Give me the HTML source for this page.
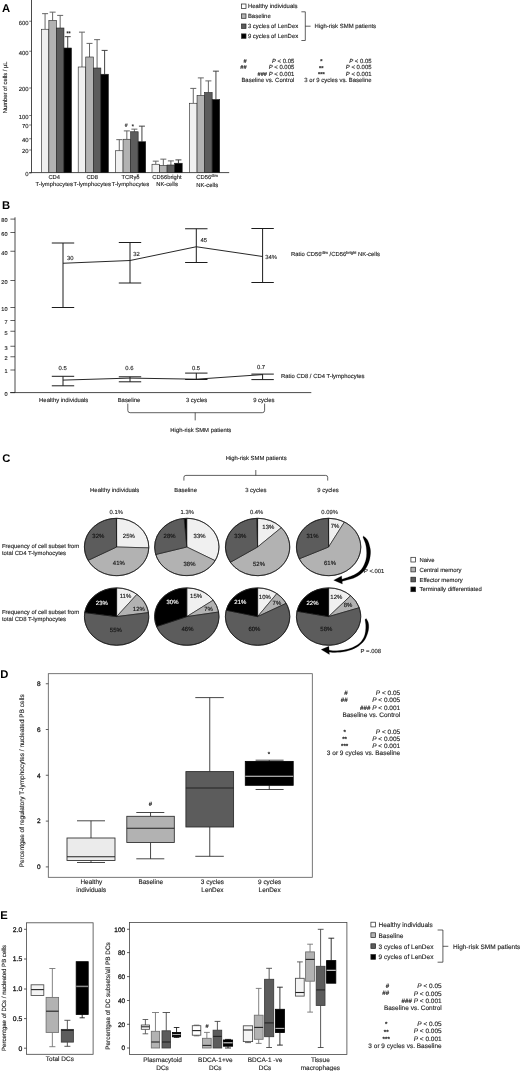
<!DOCTYPE html>
<html lang="en">
<head>
<meta charset="utf-8">
<title>Figure</title>
<style>
html,body{margin:0;padding:0;background:#fff;}
svg{display:block;}
svg text{font-family:"Liberation Sans",sans-serif;text-rendering:geometricPrecision;stroke-width:1.3px;}
</style>
</head>
<body>
<svg width="520" height="1071" viewBox="0 0 520 1071">
<rect x="0" y="0" width="520" height="1071" fill="#ffffff"/>
<g fill="#1f1f1f" stroke="#1f1f1f" stroke-width="0.13">
<text transform="translate(2 11.5) scale(0.1)" font-size="113" font-weight="bold" fill="#000" stroke="none">A</text>
<line x1="31.5" y1="0" x2="31.5" y2="172.6" stroke="#1c1c1c" stroke-width="0.8"/>
<line x1="29.2" y1="172.6" x2="229.2" y2="172.6" stroke="#1c1c1c" stroke-width="0.8"/>
<line x1="29.2" y1="21.25" x2="31.5" y2="21.25" stroke="#1c1c1c" stroke-width="0.6"/>
<text transform="translate(28.6 24.67) scale(0.1)" font-size="59" text-anchor="end">600</text>
<line x1="29.2" y1="51.25" x2="31.5" y2="51.25" stroke="#1c1c1c" stroke-width="0.6"/>
<text transform="translate(28.6 54.67) scale(0.1)" font-size="59" text-anchor="end">400</text>
<line x1="29.2" y1="88" x2="31.5" y2="88" stroke="#1c1c1c" stroke-width="0.6"/>
<text transform="translate(28.6 91.42) scale(0.1)" font-size="59" text-anchor="end">200</text>
<line x1="29.2" y1="115.5" x2="31.5" y2="115.5" stroke="#1c1c1c" stroke-width="0.6"/>
<text transform="translate(28.6 118.92) scale(0.1)" font-size="59" text-anchor="end">100</text>
<line x1="29.2" y1="125" x2="31.5" y2="125" stroke="#1c1c1c" stroke-width="0.6"/>
<text transform="translate(28.6 128.42) scale(0.1)" font-size="59" text-anchor="end">70</text>
<line x1="29.2" y1="138.75" x2="31.5" y2="138.75" stroke="#1c1c1c" stroke-width="0.6"/>
<text transform="translate(28.6 142.17) scale(0.1)" font-size="59" text-anchor="end">40</text>
<line x1="29.2" y1="150" x2="31.5" y2="150" stroke="#1c1c1c" stroke-width="0.6"/>
<text transform="translate(28.6 153.42) scale(0.1)" font-size="59" text-anchor="end">20</text>
<line x1="29.2" y1="173" x2="31.5" y2="173" stroke="#1c1c1c" stroke-width="0.6"/>
<text transform="translate(28.6 176.42) scale(0.1)" font-size="59" text-anchor="end">0</text>
<text transform="translate(6.69 87.3) rotate(-90) scale(0.1)" font-size="58" text-anchor="middle">Number of cells / µL</text>
<line x1="45.07" y1="13.65" x2="45.07" y2="29.25" stroke="#5e5e5e" stroke-width="0.95"/>
<line x1="42.07" y1="13.65" x2="48.07" y2="13.65" stroke="#5e5e5e" stroke-width="0.95"/>
<rect x="41.3" y="29.25" width="7.55" height="143.35" fill="#f0f0f0" stroke="#222" stroke-width="0.6"/>
<line x1="52.62" y1="12.15" x2="52.62" y2="20.5" stroke="#5e5e5e" stroke-width="0.95"/>
<line x1="49.62" y1="12.15" x2="55.62" y2="12.15" stroke="#5e5e5e" stroke-width="0.95"/>
<rect x="48.85" y="20.5" width="7.55" height="152.1" fill="#b2b2b2" stroke="#222" stroke-width="0.6"/>
<line x1="60.17" y1="15.4" x2="60.17" y2="28" stroke="#5e5e5e" stroke-width="0.95"/>
<line x1="57.17" y1="15.4" x2="63.17" y2="15.4" stroke="#5e5e5e" stroke-width="0.95"/>
<rect x="56.4" y="28" width="7.55" height="144.6" fill="#5c5c5c" stroke="#222" stroke-width="0.6"/>
<line x1="67.72" y1="36.65" x2="67.72" y2="48" stroke="#3a3a3a" stroke-width="0.95"/>
<line x1="64.72" y1="36.65" x2="70.72" y2="36.65" stroke="#3a3a3a" stroke-width="0.95"/>
<rect x="63.95" y="48" width="7.55" height="124.6" fill="#000000" stroke="#222" stroke-width="0.6"/>
<line x1="81.98" y1="32.15" x2="81.98" y2="67" stroke="#5e5e5e" stroke-width="0.95"/>
<line x1="78.98" y1="32.15" x2="84.98" y2="32.15" stroke="#5e5e5e" stroke-width="0.95"/>
<rect x="78.2" y="67" width="7.55" height="105.6" fill="#f0f0f0" stroke="#222" stroke-width="0.6"/>
<line x1="89.53" y1="43.4" x2="89.53" y2="57" stroke="#5e5e5e" stroke-width="0.95"/>
<line x1="86.53" y1="43.4" x2="92.53" y2="43.4" stroke="#5e5e5e" stroke-width="0.95"/>
<rect x="85.75" y="57" width="7.55" height="115.6" fill="#b2b2b2" stroke="#222" stroke-width="0.6"/>
<line x1="97.08" y1="39.65" x2="97.08" y2="68" stroke="#5e5e5e" stroke-width="0.95"/>
<line x1="94.08" y1="39.65" x2="100.08" y2="39.65" stroke="#5e5e5e" stroke-width="0.95"/>
<rect x="93.3" y="68" width="7.55" height="104.6" fill="#5c5c5c" stroke="#222" stroke-width="0.6"/>
<line x1="104.62" y1="50.4" x2="104.62" y2="74.25" stroke="#3a3a3a" stroke-width="0.95"/>
<line x1="101.62" y1="50.4" x2="107.62" y2="50.4" stroke="#3a3a3a" stroke-width="0.95"/>
<rect x="100.85" y="74.25" width="7.55" height="98.35" fill="#000000" stroke="#222" stroke-width="0.6"/>
<line x1="119.28" y1="139.65" x2="119.28" y2="150.75" stroke="#5e5e5e" stroke-width="0.95"/>
<line x1="116.28" y1="139.65" x2="122.28" y2="139.65" stroke="#5e5e5e" stroke-width="0.95"/>
<rect x="115.5" y="150.75" width="7.55" height="21.85" fill="#f0f0f0" stroke="#222" stroke-width="0.6"/>
<line x1="126.83" y1="130.9" x2="126.83" y2="139.25" stroke="#5e5e5e" stroke-width="0.95"/>
<line x1="123.83" y1="130.9" x2="129.82" y2="130.9" stroke="#5e5e5e" stroke-width="0.95"/>
<rect x="123.05" y="139.25" width="7.55" height="33.35" fill="#b2b2b2" stroke="#222" stroke-width="0.6"/>
<line x1="134.38" y1="129.15" x2="134.38" y2="131.75" stroke="#5e5e5e" stroke-width="0.95"/>
<line x1="131.38" y1="129.15" x2="137.38" y2="129.15" stroke="#5e5e5e" stroke-width="0.95"/>
<rect x="130.6" y="131.75" width="7.55" height="40.85" fill="#5c5c5c" stroke="#222" stroke-width="0.6"/>
<line x1="141.93" y1="126.15" x2="141.93" y2="141.75" stroke="#3a3a3a" stroke-width="0.95"/>
<line x1="138.93" y1="126.15" x2="144.93" y2="126.15" stroke="#3a3a3a" stroke-width="0.95"/>
<rect x="138.15" y="141.75" width="7.55" height="30.85" fill="#000000" stroke="#222" stroke-width="0.6"/>
<line x1="155.78" y1="161.15" x2="155.78" y2="164.25" stroke="#5e5e5e" stroke-width="0.95"/>
<line x1="152.78" y1="161.15" x2="158.78" y2="161.15" stroke="#5e5e5e" stroke-width="0.95"/>
<rect x="152" y="164.25" width="7.55" height="8.35" fill="#f0f0f0" stroke="#222" stroke-width="0.6"/>
<line x1="163.33" y1="159.15" x2="163.33" y2="165.5" stroke="#5e5e5e" stroke-width="0.95"/>
<line x1="160.33" y1="159.15" x2="166.33" y2="159.15" stroke="#5e5e5e" stroke-width="0.95"/>
<rect x="159.55" y="165.5" width="7.55" height="7.1" fill="#b2b2b2" stroke="#222" stroke-width="0.6"/>
<line x1="170.88" y1="160.9" x2="170.88" y2="165" stroke="#5e5e5e" stroke-width="0.95"/>
<line x1="167.88" y1="160.9" x2="173.88" y2="160.9" stroke="#5e5e5e" stroke-width="0.95"/>
<rect x="167.1" y="165" width="7.55" height="7.6" fill="#5c5c5c" stroke="#222" stroke-width="0.6"/>
<line x1="178.43" y1="159.9" x2="178.43" y2="163.25" stroke="#3a3a3a" stroke-width="0.95"/>
<line x1="175.43" y1="159.9" x2="181.43" y2="159.9" stroke="#3a3a3a" stroke-width="0.95"/>
<rect x="174.65" y="163.25" width="7.55" height="9.35" fill="#000000" stroke="#222" stroke-width="0.6"/>
<line x1="193.28" y1="88.4" x2="193.28" y2="103.25" stroke="#5e5e5e" stroke-width="0.95"/>
<line x1="190.28" y1="88.4" x2="196.28" y2="88.4" stroke="#5e5e5e" stroke-width="0.95"/>
<rect x="189.5" y="103.25" width="7.55" height="69.35" fill="#f0f0f0" stroke="#222" stroke-width="0.6"/>
<line x1="200.83" y1="77.9" x2="200.83" y2="95.5" stroke="#5e5e5e" stroke-width="0.95"/>
<line x1="197.83" y1="77.9" x2="203.83" y2="77.9" stroke="#5e5e5e" stroke-width="0.95"/>
<rect x="197.05" y="95.5" width="7.55" height="77.1" fill="#b2b2b2" stroke="#222" stroke-width="0.6"/>
<line x1="208.38" y1="80.9" x2="208.38" y2="92.5" stroke="#5e5e5e" stroke-width="0.95"/>
<line x1="205.38" y1="80.9" x2="211.38" y2="80.9" stroke="#5e5e5e" stroke-width="0.95"/>
<rect x="204.6" y="92.5" width="7.55" height="80.1" fill="#5c5c5c" stroke="#222" stroke-width="0.6"/>
<line x1="215.93" y1="71.15" x2="215.93" y2="99.5" stroke="#3a3a3a" stroke-width="0.95"/>
<line x1="212.93" y1="71.15" x2="218.93" y2="71.15" stroke="#3a3a3a" stroke-width="0.95"/>
<rect x="212.15" y="99.5" width="7.55" height="73.1" fill="#000000" stroke="#222" stroke-width="0.6"/>
<text transform="translate(68.6 34.54) scale(0.1)" font-size="54" text-anchor="middle" font-weight="bold">**</text>
<text transform="translate(126.3 127.07) scale(0.1)" font-size="52" text-anchor="middle" font-weight="bold">#</text>
<text transform="translate(132.8 127.74) scale(0.1)" font-size="54" text-anchor="middle" font-weight="bold">*</text>
<text transform="translate(54.2 179.09) scale(0.1)" font-size="58" text-anchor="middle">CD4</text>
<text transform="translate(54.2 186.49) scale(0.1)" font-size="58" text-anchor="middle">T-lymphocytes</text>
<text transform="translate(92.2 179.09) scale(0.1)" font-size="58" text-anchor="middle">CD8</text>
<text transform="translate(92.2 186.49) scale(0.1)" font-size="58" text-anchor="middle">T-lymphocytes</text>
<text transform="translate(130.5 179.09) scale(0.1)" font-size="58" text-anchor="middle">TCRγδ</text>
<text transform="translate(130.5 186.49) scale(0.1)" font-size="58" text-anchor="middle">T-lymphocytes</text>
<text transform="translate(167 179.09) scale(0.1)" font-size="58" text-anchor="middle">CD56bright</text>
<text transform="translate(167 186.49) scale(0.1)" font-size="58" text-anchor="middle">NK-cells</text>
<text transform="translate(196.2 179.12) scale(0.1)" font-size="59">CD56<tspan font-size="40" dy="-21">dim</tspan><tspan dy="21">&#8203;</tspan></text>
<text transform="translate(196.2 186.52) scale(0.1)" font-size="59">NK-cells</text>
<rect x="241.6" y="4" width="4.4" height="4.4" fill="#fff" stroke="#222" stroke-width="0.7"/>
<text transform="translate(247.9 8.34) scale(0.1)" font-size="59.5">Healthy individuals</text>
<rect x="241.6" y="13.9" width="4.4" height="4.4" fill="#b2b2b2" stroke="#222" stroke-width="0.7"/>
<text transform="translate(247.9 18.24) scale(0.1)" font-size="59.5">Baseline</text>
<rect x="241.6" y="24" width="4.4" height="4.4" fill="#5c5c5c" stroke="#222" stroke-width="0.7"/>
<text transform="translate(247.9 28.34) scale(0.1)" font-size="59.5">3 cycles of LenDex</text>
<rect x="241.6" y="33.9" width="4.4" height="4.4" fill="#000000" stroke="#222" stroke-width="0.7"/>
<text transform="translate(247.9 38.24) scale(0.1)" font-size="59.5">9 cycles of LenDex</text>
<path d="M301.4 11.8 H305.3 V40.5 H301.4 M305.3 26.2 H310.6" fill="none" stroke="#1c1c1c" stroke-width="0.7" />
<text transform="translate(314.6 28.34) scale(0.1)" font-size="59.5">High-risk SMM patients</text>
<text transform="translate(246.64 62.73) scale(0.1)" font-size="56.52" text-anchor="end" font-weight="bold">#</text>
<text transform="translate(294.3 62.84) scale(0.1)" font-size="59.5" text-anchor="end"><tspan font-style="italic">P</tspan> &lt; 0.05</text>
<text transform="translate(246.64 69.2) scale(0.1)" font-size="56.52" text-anchor="end" font-weight="bold">##</text>
<text transform="translate(294.3 69.31) scale(0.1)" font-size="59.5" text-anchor="end"><tspan font-style="italic">P</tspan> &lt; 0.005</text>
<text transform="translate(294.3 75.78) scale(0.1)" font-size="59.5" text-anchor="end"><tspan font-size="56.52" font-weight="bold">###</tspan> <tspan font-style="italic">P</tspan> &lt; 0.001</text>
<text transform="translate(294.3 82.25) scale(0.1)" font-size="59.5" text-anchor="end">Baseline vs. Control</text>
<text transform="translate(321.3 63.03) scale(0.1)" font-size="56.52" text-anchor="middle" font-weight="bold">*</text>
<text transform="translate(321.3 69.5) scale(0.1)" font-size="56.52" text-anchor="middle" font-weight="bold">**</text>
<text transform="translate(321.3 75.97) scale(0.1)" font-size="56.52" text-anchor="middle" font-weight="bold">***</text>
<text transform="translate(371.5 62.84) scale(0.1)" font-size="59.5" text-anchor="end"><tspan font-style="italic">P</tspan> &lt; 0.05</text>
<text transform="translate(371.5 69.31) scale(0.1)" font-size="59.5" text-anchor="end"><tspan font-style="italic">P</tspan> &lt; 0.005</text>
<text transform="translate(371.5 75.78) scale(0.1)" font-size="59.5" text-anchor="end"><tspan font-style="italic">P</tspan> &lt; 0.001</text>
<text transform="translate(371.5 82.25) scale(0.1)" font-size="59.5" text-anchor="end">3 or 9 cycles vs. Baseline</text>
<text transform="translate(2 208.8) scale(0.1)" font-size="113" font-weight="bold" fill="#000" stroke="none">B</text>
<line x1="15" y1="217.3" x2="15" y2="392.6" stroke="#1c1c1c" stroke-width="0.8"/>
<line x1="10.2" y1="392.6" x2="311.3" y2="392.6" stroke="#1c1c1c" stroke-width="0.8"/>
<line x1="10.4" y1="219.1" x2="15" y2="219.1" stroke="#1c1c1c" stroke-width="0.7"/>
<text transform="translate(7.6 222.42) scale(0.1)" font-size="56" text-anchor="end">80</text>
<line x1="10.4" y1="232.5" x2="15" y2="232.5" stroke="#1c1c1c" stroke-width="0.7"/>
<text transform="translate(7.6 235.82) scale(0.1)" font-size="56" text-anchor="end">60</text>
<line x1="10.4" y1="251.25" x2="15" y2="251.25" stroke="#1c1c1c" stroke-width="0.7"/>
<text transform="translate(7.6 254.57) scale(0.1)" font-size="56" text-anchor="end">40</text>
<line x1="10.4" y1="280.5" x2="15" y2="280.5" stroke="#1c1c1c" stroke-width="0.7"/>
<text transform="translate(7.6 283.82) scale(0.1)" font-size="56" text-anchor="end">20</text>
<line x1="10.4" y1="307.5" x2="15" y2="307.5" stroke="#1c1c1c" stroke-width="0.7"/>
<text transform="translate(7.6 310.82) scale(0.1)" font-size="56" text-anchor="end">10</text>
<line x1="10.4" y1="320.5" x2="15" y2="320.5" stroke="#1c1c1c" stroke-width="0.7"/>
<text transform="translate(7.6 323.82) scale(0.1)" font-size="56" text-anchor="end">7</text>
<line x1="10.4" y1="331.25" x2="15" y2="331.25" stroke="#1c1c1c" stroke-width="0.7"/>
<text transform="translate(7.6 334.57) scale(0.1)" font-size="56" text-anchor="end">5</text>
<line x1="10.4" y1="346.25" x2="15" y2="346.25" stroke="#1c1c1c" stroke-width="0.7"/>
<text transform="translate(7.6 349.57) scale(0.1)" font-size="56" text-anchor="end">3</text>
<line x1="10.4" y1="356.75" x2="15" y2="356.75" stroke="#1c1c1c" stroke-width="0.7"/>
<text transform="translate(7.6 360.07) scale(0.1)" font-size="56" text-anchor="end">2</text>
<line x1="10.4" y1="370" x2="15" y2="370" stroke="#1c1c1c" stroke-width="0.7"/>
<text transform="translate(7.6 373.32) scale(0.1)" font-size="56" text-anchor="end">1</text>
<line x1="10.4" y1="392.6" x2="15" y2="392.6" stroke="#1c1c1c" stroke-width="0.7"/>
<text transform="translate(7.6 395.92) scale(0.1)" font-size="56" text-anchor="end">0</text>
<line x1="63" y1="243" x2="63" y2="307.5" stroke="#1c1c1c" stroke-width="1"/>
<line x1="51.8" y1="243" x2="74.2" y2="243" stroke="#1c1c1c" stroke-width="1"/>
<line x1="51.8" y1="307.5" x2="74.2" y2="307.5" stroke="#1c1c1c" stroke-width="1"/>
<line x1="130" y1="242.5" x2="130" y2="283" stroke="#1c1c1c" stroke-width="1"/>
<line x1="118.8" y1="242.5" x2="141.2" y2="242.5" stroke="#1c1c1c" stroke-width="1"/>
<line x1="118.8" y1="283" x2="141.2" y2="283" stroke="#1c1c1c" stroke-width="1"/>
<line x1="196.3" y1="228.75" x2="196.3" y2="262.5" stroke="#1c1c1c" stroke-width="1"/>
<line x1="185.1" y1="228.75" x2="207.5" y2="228.75" stroke="#1c1c1c" stroke-width="1"/>
<line x1="185.1" y1="262.5" x2="207.5" y2="262.5" stroke="#1c1c1c" stroke-width="1"/>
<line x1="262.6" y1="228.5" x2="262.6" y2="282.5" stroke="#1c1c1c" stroke-width="1"/>
<line x1="251.4" y1="228.5" x2="273.8" y2="228.5" stroke="#1c1c1c" stroke-width="1"/>
<line x1="251.4" y1="282.5" x2="273.8" y2="282.5" stroke="#1c1c1c" stroke-width="1"/>
<path d="M63 263.25 L130 260.5 L196.3 246.75 L262.6 256.5" fill="none" stroke="#1c1c1c" stroke-width="0.95" />
<text transform="translate(67 259.72) scale(0.1)" font-size="59">30</text>
<text transform="translate(133.2 255.92) scale(0.1)" font-size="59">32</text>
<text transform="translate(200.4 241.72) scale(0.1)" font-size="59">45</text>
<text transform="translate(265.2 258.72) scale(0.1)" font-size="59">34%</text>
<text transform="translate(291 256.32) scale(0.1)" font-size="59">Ratio CD56<tspan font-size="40" dy="-21">dim</tspan><tspan dy="21">&#8203;</tspan> /CD56<tspan font-size="40" dy="-21">bright</tspan><tspan dy="21">&#8203;</tspan> NK-cells</text>
<line x1="63" y1="376.3" x2="63" y2="385.8" stroke="#1c1c1c" stroke-width="1"/>
<line x1="51.8" y1="376.3" x2="74.2" y2="376.3" stroke="#1c1c1c" stroke-width="1"/>
<line x1="51.8" y1="385.8" x2="74.2" y2="385.8" stroke="#1c1c1c" stroke-width="1"/>
<line x1="130" y1="376.8" x2="130" y2="381.8" stroke="#1c1c1c" stroke-width="1"/>
<line x1="118.8" y1="376.8" x2="141.2" y2="376.8" stroke="#1c1c1c" stroke-width="1"/>
<line x1="118.8" y1="381.8" x2="141.2" y2="381.8" stroke="#1c1c1c" stroke-width="1"/>
<line x1="196.3" y1="373.1" x2="196.3" y2="379.5" stroke="#1c1c1c" stroke-width="1"/>
<line x1="185.1" y1="373.1" x2="207.5" y2="373.1" stroke="#1c1c1c" stroke-width="1"/>
<line x1="185.1" y1="379.5" x2="207.5" y2="379.5" stroke="#1c1c1c" stroke-width="1"/>
<line x1="262.6" y1="374.1" x2="262.6" y2="379.6" stroke="#1c1c1c" stroke-width="1"/>
<line x1="251.4" y1="374.1" x2="273.8" y2="374.1" stroke="#1c1c1c" stroke-width="1"/>
<line x1="251.4" y1="379.6" x2="273.8" y2="379.6" stroke="#1c1c1c" stroke-width="1"/>
<path d="M63 380.1 L130 378.1 L196.3 379.2 L262.6 374.6" fill="none" stroke="#1c1c1c" stroke-width="0.95" />
<text transform="translate(62.6 369.52) scale(0.1)" font-size="59" text-anchor="middle">0.5</text>
<text transform="translate(129.4 369.52) scale(0.1)" font-size="59" text-anchor="middle">0.6</text>
<text transform="translate(196 369.52) scale(0.1)" font-size="59" text-anchor="middle">0.5</text>
<text transform="translate(261 368.72) scale(0.1)" font-size="59" text-anchor="middle">0.7</text>
<text transform="translate(281 378.42) scale(0.1)" font-size="59">Ratio CD8 / CD4 T-lymphocytes</text>
<text transform="translate(63.7 401.62) scale(0.1)" font-size="59" text-anchor="middle">Healthy individuals</text>
<text transform="translate(129 401.62) scale(0.1)" font-size="59" text-anchor="middle">Baseline</text>
<text transform="translate(196.6 401.62) scale(0.1)" font-size="59" text-anchor="middle">3 cycles</text>
<text transform="translate(263.8 401.62) scale(0.1)" font-size="59" text-anchor="middle">9 cycles</text>
<path d="M127.8 403.6 V410.4 Q127.8 412.7 130.1 412.7 H262.3 Q264.6 412.7 264.6 410.4 V403.6 M195.2 412.7 V420.4" fill="none" stroke="#1c1c1c" stroke-width="0.7" />
<text transform="translate(200.8 432.12) scale(0.1)" font-size="59" text-anchor="middle">High-risk SMM patients</text>
<text transform="translate(2.2 461.6) scale(0.1)" font-size="113" font-weight="bold" fill="#000" stroke="none">C</text>
<text transform="translate(256.2 460.32) scale(0.1)" font-size="59" text-anchor="middle">High-risk SMM patients</text>
<path d="M183.9 480.6 V477.4 Q183.9 475.4 185.9 475.4 H325.7 Q327.7 475.4 327.7 477.4 V480.6 M255.8 475.4 V470" fill="none" stroke="#1c1c1c" stroke-width="0.7" />
<text transform="translate(114.7 492.22) scale(0.1)" font-size="59" text-anchor="middle">Healthy individuals</text>
<text transform="translate(185.6 492.22) scale(0.1)" font-size="59" text-anchor="middle">Baseline</text>
<text transform="translate(255.8 492.22) scale(0.1)" font-size="59" text-anchor="middle">3 cycles</text>
<text transform="translate(328 492.22) scale(0.1)" font-size="59" text-anchor="middle">9 cycles</text>
<text transform="translate(116.3 513.92) scale(0.1)" font-size="59" text-anchor="middle">0.1%</text>
<text transform="translate(187.2 513.92) scale(0.1)" font-size="59" text-anchor="middle">1.3%</text>
<text transform="translate(256.6 513.92) scale(0.1)" font-size="59" text-anchor="middle">0.4%</text>
<text transform="translate(329.6 513.92) scale(0.1)" font-size="59" text-anchor="middle">0.09%</text>
<text transform="translate(1.9 547.52) scale(0.1)" font-size="59">Frequency of cell subset from</text>
<text transform="translate(1.9 555.12) scale(0.1)" font-size="59">total CD4 T-lymohocytes</text>
<text transform="translate(1.9 613.52) scale(0.1)" font-size="59">Frequency of cell subset from</text>
<text transform="translate(1.9 621.12) scale(0.1)" font-size="59">total CD8 T-lymphocytes</text>
<path d="M116.6 547 L116.6 518.3 A32.2 28.7 0 0 1 148.79 547.87 Z" fill="#f0f0f0" stroke="#111" stroke-width="0.6" stroke-linejoin="round"/>
<path d="M116.6 547 L148.79 547.87 A32.2 28.7 0 0 1 88.12 560.38 Z" fill="#b2b2b2" stroke="#111" stroke-width="0.6" stroke-linejoin="round"/>
<path d="M116.6 547 L88.12 560.38 A32.2 28.7 0 0 1 116.39 518.3 Z" fill="#5c5c5c" stroke="#111" stroke-width="0.6" stroke-linejoin="round"/>
<path d="M116.6 547 L116.39 518.3 A32.2 28.7 0 0 1 116.6 518.3 Z" fill="#000000" stroke="#111" stroke-width="0.25" stroke-linejoin="round"/>
<ellipse cx="116.6" cy="547" rx="32.2" ry="28.7" fill="none" stroke="#1a1a1a" stroke-width="0.75"/>
<text transform="translate(98.3 537.96) scale(0.1)" font-size="60" text-anchor="middle" fill="#111" stroke="#111">32%</text>
<text transform="translate(128.8 537.96) scale(0.1)" font-size="60" text-anchor="middle" fill="#111" stroke="#111">25%</text>
<text transform="translate(118.8 565.46) scale(0.1)" font-size="60" text-anchor="middle" fill="#111" stroke="#111">41%</text>
<path d="M186.8 547 L186.8 518.3 A32.2 28.7 0 0 1 215.11 560.67 Z" fill="#f0f0f0" stroke="#111" stroke-width="0.6" stroke-linejoin="round"/>
<path d="M186.8 547 L215.11 560.67 A32.2 28.7 0 0 1 155.72 554.51 Z" fill="#b2b2b2" stroke="#111" stroke-width="0.6" stroke-linejoin="round"/>
<path d="M186.8 547 L155.72 554.51 A32.2 28.7 0 0 1 184.18 518.4 Z" fill="#5c5c5c" stroke="#111" stroke-width="0.6" stroke-linejoin="round"/>
<path d="M186.8 547 L184.18 518.4 A32.2 28.7 0 0 1 186.8 518.3 Z" fill="#000000" stroke="#111" stroke-width="0.25" stroke-linejoin="round"/>
<ellipse cx="186.8" cy="547" rx="32.2" ry="28.7" fill="none" stroke="#1a1a1a" stroke-width="0.75"/>
<text transform="translate(169.6 538.16) scale(0.1)" font-size="60" text-anchor="middle" fill="#111" stroke="#111">28%</text>
<text transform="translate(199.6 538.16) scale(0.1)" font-size="60" text-anchor="middle" fill="#111" stroke="#111">33%</text>
<text transform="translate(189.5 565.66) scale(0.1)" font-size="60" text-anchor="middle" fill="#111" stroke="#111">38%</text>
<path d="M257.6 547 L257.6 518.3 A32.2 28.7 0 0 1 281.36 527.63 Z" fill="#f0f0f0" stroke="#111" stroke-width="0.6" stroke-linejoin="round"/>
<path d="M257.6 547 L281.36 527.63 A32.2 28.7 0 1 1 230.35 562.29 Z" fill="#b2b2b2" stroke="#111" stroke-width="0.6" stroke-linejoin="round"/>
<path d="M257.6 547 L230.35 562.29 A32.2 28.7 0 0 1 256.78 518.31 Z" fill="#5c5c5c" stroke="#111" stroke-width="0.6" stroke-linejoin="round"/>
<path d="M257.6 547 L256.78 518.31 A32.2 28.7 0 0 1 257.6 518.3 Z" fill="#000000" stroke="#111" stroke-width="0.25" stroke-linejoin="round"/>
<ellipse cx="257.6" cy="547" rx="32.2" ry="28.7" fill="none" stroke="#1a1a1a" stroke-width="0.75"/>
<text transform="translate(240.3 538.16) scale(0.1)" font-size="60" text-anchor="middle" fill="#111" stroke="#111">33%</text>
<text transform="translate(268.3 528.96) scale(0.1)" font-size="60" text-anchor="middle" fill="#111" stroke="#111">13%</text>
<text transform="translate(259 565.66) scale(0.1)" font-size="60" text-anchor="middle" fill="#111" stroke="#111">52%</text>
<path d="M328.6 547 L328.6 518.3 A32.2 28.7 0 0 1 344.41 522 Z" fill="#f0f0f0" stroke="#111" stroke-width="0.6" stroke-linejoin="round"/>
<path d="M328.6 547 L344.41 522 A32.2 28.7 0 1 1 299.25 558.81 Z" fill="#b2b2b2" stroke="#111" stroke-width="0.6" stroke-linejoin="round"/>
<path d="M328.6 547 L299.25 558.81 A32.2 28.7 0 0 1 328.42 518.3 Z" fill="#5c5c5c" stroke="#111" stroke-width="0.6" stroke-linejoin="round"/>
<path d="M328.6 547 L328.42 518.3 A32.2 28.7 0 0 1 328.6 518.3 Z" fill="#000000" stroke="#111" stroke-width="0.25" stroke-linejoin="round"/>
<ellipse cx="328.6" cy="547" rx="32.2" ry="28.7" fill="none" stroke="#1a1a1a" stroke-width="0.75"/>
<text transform="translate(335 528.46) scale(0.1)" font-size="60" text-anchor="middle" fill="#111" stroke="#111">7%</text>
<text transform="translate(312.5 538.46) scale(0.1)" font-size="60" text-anchor="middle" fill="#111" stroke="#111">31%</text>
<text transform="translate(330 565.46) scale(0.1)" font-size="60" text-anchor="middle" fill="#111" stroke="#111">61%</text>
<path d="M116.6 616.6 L116.6 587.9 A32.2 28.7 0 0 1 136.95 594.36 Z" fill="#f0f0f0" stroke="#111" stroke-width="0.6" stroke-linejoin="round"/>
<path d="M116.6 616.6 L136.95 594.36 A32.2 28.7 0 0 1 148.49 612.6 Z" fill="#b2b2b2" stroke="#111" stroke-width="0.6" stroke-linejoin="round"/>
<path d="M116.6 616.6 L148.49 612.6 A32.2 28.7 0 1 1 84.71 612.6 Z" fill="#5c5c5c" stroke="#111" stroke-width="0.6" stroke-linejoin="round"/>
<path d="M116.6 616.6 L84.71 612.6 A32.2 28.7 0 0 1 116.6 587.9 Z" fill="#000000" stroke="#111" stroke-width="0.6" stroke-linejoin="round"/>
<ellipse cx="116.6" cy="616.6" rx="32.2" ry="28.7" fill="none" stroke="#1a1a1a" stroke-width="0.75"/>
<text transform="translate(101.8 604.66) scale(0.1)" font-size="60" text-anchor="middle" fill="#fff" stroke="#fff">23%</text>
<text transform="translate(125.5 598.46) scale(0.1)" font-size="60" text-anchor="middle" fill="#111" stroke="#111">11%</text>
<text transform="translate(138.8 610.96) scale(0.1)" font-size="60" text-anchor="middle" fill="#111" stroke="#111">12%</text>
<text transform="translate(115.8 632.16) scale(0.1)" font-size="60" text-anchor="middle" fill="#111" stroke="#111">55%</text>
<path d="M186.8 616.6 L186.8 587.9 A32.2 28.7 0 0 1 213.21 600.18 Z" fill="#f0f0f0" stroke="#111" stroke-width="0.6" stroke-linejoin="round"/>
<path d="M186.8 616.6 L213.21 600.18 A32.2 28.7 0 0 1 218.59 612.02 Z" fill="#b2b2b2" stroke="#111" stroke-width="0.6" stroke-linejoin="round"/>
<path d="M186.8 616.6 L218.59 612.02 A32.2 28.7 0 0 1 156.58 626.51 Z" fill="#5c5c5c" stroke="#111" stroke-width="0.6" stroke-linejoin="round"/>
<path d="M186.8 616.6 L156.58 626.51 A32.2 28.7 0 0 1 186.8 587.9 Z" fill="#000000" stroke="#111" stroke-width="0.6" stroke-linejoin="round"/>
<ellipse cx="186.8" cy="616.6" rx="32.2" ry="28.7" fill="none" stroke="#1a1a1a" stroke-width="0.75"/>
<text transform="translate(172.5 603.96) scale(0.1)" font-size="60" text-anchor="middle" fill="#fff" stroke="#fff">30%</text>
<text transform="translate(196.1 598.16) scale(0.1)" font-size="60" text-anchor="middle" fill="#111" stroke="#111">15%</text>
<text transform="translate(208.5 611.16) scale(0.1)" font-size="60" text-anchor="middle" fill="#111" stroke="#111">7%</text>
<text transform="translate(187.5 631.36) scale(0.1)" font-size="60" text-anchor="middle" fill="#111" stroke="#111">46%</text>
<path d="M257.6 616.6 L257.6 587.9 A32.2 28.7 0 0 1 276.86 593.6 Z" fill="#f0f0f0" stroke="#111" stroke-width="0.6" stroke-linejoin="round"/>
<path d="M257.6 616.6 L276.86 593.6 A32.2 28.7 0 0 1 286.15 603.33 Z" fill="#b2b2b2" stroke="#111" stroke-width="0.6" stroke-linejoin="round"/>
<path d="M257.6 616.6 L286.15 603.33 A32.2 28.7 0 1 1 226.21 610.21 Z" fill="#5c5c5c" stroke="#111" stroke-width="0.6" stroke-linejoin="round"/>
<path d="M257.6 616.6 L226.21 610.21 A32.2 28.7 0 0 1 257.6 587.9 Z" fill="#000000" stroke="#111" stroke-width="0.6" stroke-linejoin="round"/>
<ellipse cx="257.6" cy="616.6" rx="32.2" ry="28.7" fill="none" stroke="#1a1a1a" stroke-width="0.75"/>
<text transform="translate(240.3 603.96) scale(0.1)" font-size="60" text-anchor="middle" fill="#fff" stroke="#fff">21%</text>
<text transform="translate(264.8 598.76) scale(0.1)" font-size="60" text-anchor="middle" fill="#111" stroke="#111">10%</text>
<text transform="translate(276.9 604.56) scale(0.1)" font-size="60" text-anchor="middle" fill="#111" stroke="#111">7%</text>
<text transform="translate(254.4 631.36) scale(0.1)" font-size="60" text-anchor="middle" fill="#111" stroke="#111">60%</text>
<path d="M328.6 616.6 L328.6 587.9 A32.2 28.7 0 0 1 350.64 595.68 Z" fill="#f0f0f0" stroke="#111" stroke-width="0.6" stroke-linejoin="round"/>
<path d="M328.6 616.6 L350.64 595.68 A32.2 28.7 0 0 1 359.22 607.73 Z" fill="#b2b2b2" stroke="#111" stroke-width="0.6" stroke-linejoin="round"/>
<path d="M328.6 616.6 L359.22 607.73 A32.2 28.7 0 1 1 296.97 611.22 Z" fill="#5c5c5c" stroke="#111" stroke-width="0.6" stroke-linejoin="round"/>
<path d="M328.6 616.6 L296.97 611.22 A32.2 28.7 0 0 1 328.6 587.9 Z" fill="#000000" stroke="#111" stroke-width="0.6" stroke-linejoin="round"/>
<ellipse cx="328.6" cy="616.6" rx="32.2" ry="28.7" fill="none" stroke="#1a1a1a" stroke-width="0.75"/>
<text transform="translate(312.5 604.66) scale(0.1)" font-size="60" text-anchor="middle" fill="#fff" stroke="#fff">22%</text>
<text transform="translate(336.3 599.16) scale(0.1)" font-size="60" text-anchor="middle" fill="#111" stroke="#111">12%</text>
<text transform="translate(348 607.16) scale(0.1)" font-size="60" text-anchor="middle" fill="#111" stroke="#111">8%</text>
<text transform="translate(326.3 631.46) scale(0.1)" font-size="60" text-anchor="middle" fill="#111" stroke="#111">58%</text>
<path d="M363.4 535.9 C364.08 536.58 366.4 538.07 367.5 540 C368.6 541.93 369.5 545.21 370 547.5 C370.5 549.79 370.71 551.25 370.5 553.75 C370.29 556.25 369.88 559.58 368.75 562.5 C367.62 565.42 366.04 568.75 363.75 571.25 C361.46 573.75 358.62 575.81 355 577.5 C351.38 579.19 344.17 580.75 342 581.4 L342 579.2 C343.96 578.5 350.54 576.62 353.75 575 C356.96 573.38 359.38 571.58 361.25 569.5 C363.12 567.42 364.12 564.71 365 562.5 C365.88 560.29 366.25 558.33 366.5 556.25 C366.75 554.17 366.67 552.08 366.5 550 C366.33 547.92 366.08 545.83 365.5 543.75 C364.92 541.67 363.42 538.54 363 537.5 Z" fill="#000" stroke="#000" stroke-width="0.2" />
<path d="M333.7 580.2 L341.6 576 L342.4 584 Z" fill="#000" stroke="#000" stroke-width="0.2" />
<path d="M366.25 618.6 C366.58 619.25 367.83 621.02 368.25 622.5 C368.67 623.98 368.88 625.62 368.75 627.5 C368.62 629.38 368.33 631.46 367.5 633.75 C366.67 636.04 365.62 638.96 363.75 641.25 C361.88 643.54 359.17 645.83 356.25 647.5 C353.33 649.17 349.79 650.42 346.25 651.25 C342.71 652.08 337.92 652.38 335 652.5 C332.08 652.62 329.79 652.08 328.75 652 L328.75 650.25 C329.79 650.33 332.5 650.79 335 650.75 C337.5 650.71 340.83 650.54 343.75 650 C346.67 649.46 349.88 648.62 352.5 647.5 C355.12 646.38 357.62 644.92 359.5 643.25 C361.38 641.58 362.75 639.5 363.75 637.5 C364.75 635.5 365.17 633.33 365.5 631.25 C365.83 629.17 365.83 626.96 365.75 625 C365.67 623.04 365.12 620.42 365 619.5 Z" fill="#000" stroke="#000" stroke-width="0.2" />
<path d="M321.2 649.6 L328.9 646.2 L329.4 654.4 Z" fill="#000" stroke="#000" stroke-width="0.2" />
<text transform="translate(363.8 572.92) scale(0.1)" font-size="59"><tspan font-style="italic">P</tspan> &lt;.001</text>
<text transform="translate(360.6 652.92) scale(0.1)" font-size="59">P =.008</text>
<rect x="410.9" y="557.3" width="4.7" height="4.7" fill="#fff" stroke="#222" stroke-width="0.7"/>
<text transform="translate(419.5 561.72) scale(0.1)" font-size="59">Naive</text>
<rect x="410.9" y="567.2" width="4.7" height="4.7" fill="#b2b2b2" stroke="#222" stroke-width="0.7"/>
<text transform="translate(419.5 571.62) scale(0.1)" font-size="59">Central memory</text>
<rect x="410.9" y="577.2" width="4.7" height="4.7" fill="#5c5c5c" stroke="#222" stroke-width="0.7"/>
<text transform="translate(419.5 581.62) scale(0.1)" font-size="59">Effector memory</text>
<rect x="410.9" y="587" width="4.7" height="4.7" fill="#000000" stroke="#222" stroke-width="0.7"/>
<text transform="translate(419.5 591.42) scale(0.1)" font-size="59">Terminally differentiated</text>
<text transform="translate(0.2 677.8) scale(0.1)" font-size="113" font-weight="bold" fill="#000" stroke="none">D</text>
<rect x="48.3" y="673.7" width="264" height="203.6" fill="none" stroke="#555" stroke-width="0.8"/>
<line x1="45.8" y1="683.75" x2="48.3" y2="683.75" stroke="#1c1c1c" stroke-width="0.7"/>
<text transform="translate(40.6 686.09) scale(0.1)" font-size="65" text-anchor="end" style="stroke-width:3px">8</text>
<line x1="45.8" y1="729.5" x2="48.3" y2="729.5" stroke="#1c1c1c" stroke-width="0.7"/>
<text transform="translate(40.6 731.84) scale(0.1)" font-size="65" text-anchor="end" style="stroke-width:3px">6</text>
<line x1="45.8" y1="775.25" x2="48.3" y2="775.25" stroke="#1c1c1c" stroke-width="0.7"/>
<text transform="translate(40.6 777.59) scale(0.1)" font-size="65" text-anchor="end" style="stroke-width:3px">4</text>
<line x1="45.8" y1="821.1" x2="48.3" y2="821.1" stroke="#1c1c1c" stroke-width="0.7"/>
<text transform="translate(40.6 823.44) scale(0.1)" font-size="65" text-anchor="end" style="stroke-width:3px">2</text>
<line x1="45.8" y1="866.9" x2="48.3" y2="866.9" stroke="#1c1c1c" stroke-width="0.7"/>
<text transform="translate(40.6 869.24) scale(0.1)" font-size="65" text-anchor="end" style="stroke-width:3px">0</text>
<text transform="translate(23.93 780.8) rotate(-90) scale(0.1)" font-size="64.8" text-anchor="middle">Percentgae of regulatory T-lymphocytes / nucleated PB cells</text>
<line x1="91" y1="820.8" x2="91" y2="838" stroke="#262626" stroke-width="0.85"/>
<line x1="77" y1="820.8" x2="105" y2="820.8" stroke="#262626" stroke-width="0.85"/>
<line x1="91" y1="860.5" x2="91" y2="862.5" stroke="#262626" stroke-width="0.85"/>
<line x1="77" y1="862.5" x2="105" y2="862.5" stroke="#262626" stroke-width="0.85"/>
<rect x="67" y="838" width="48" height="22.5" fill="#ebebeb" stroke="#2a2a2a" stroke-width="0.85"/>
<line x1="67" y1="856.8" x2="115" y2="856.8" stroke="#222" stroke-width="1.1"/>
<line x1="150.55" y1="812.5" x2="150.55" y2="816.3" stroke="#262626" stroke-width="0.85"/>
<line x1="136.3" y1="812.5" x2="164.3" y2="812.5" stroke="#262626" stroke-width="0.85"/>
<line x1="150.55" y1="842.5" x2="150.55" y2="858.8" stroke="#262626" stroke-width="0.85"/>
<line x1="136.3" y1="858.8" x2="164.3" y2="858.8" stroke="#262626" stroke-width="0.85"/>
<rect x="126.8" y="816.3" width="47.5" height="26.2" fill="#b2b2b2" stroke="#2a2a2a" stroke-width="0.85"/>
<line x1="126.8" y1="828.3" x2="174.3" y2="828.3" stroke="#222" stroke-width="1.1"/>
<line x1="209.75" y1="697.6" x2="209.75" y2="771.6" stroke="#262626" stroke-width="0.85"/>
<line x1="195.3" y1="697.6" x2="223.8" y2="697.6" stroke="#262626" stroke-width="0.85"/>
<line x1="209.75" y1="827" x2="209.75" y2="856.3" stroke="#262626" stroke-width="0.85"/>
<line x1="195.3" y1="856.3" x2="223.8" y2="856.3" stroke="#262626" stroke-width="0.85"/>
<rect x="185.9" y="771.6" width="47.7" height="55.4" fill="#5c5c5c" stroke="#2a2a2a" stroke-width="0.85"/>
<line x1="185.9" y1="788" x2="233.6" y2="788" stroke="#222" stroke-width="1.1"/>
<line x1="269.25" y1="760.2" x2="269.25" y2="761.4" stroke="#262626" stroke-width="0.85"/>
<line x1="255.6" y1="760.2" x2="283.6" y2="760.2" stroke="#262626" stroke-width="0.85"/>
<line x1="269.25" y1="785.3" x2="269.25" y2="789.5" stroke="#262626" stroke-width="0.85"/>
<line x1="255.6" y1="789.5" x2="283.6" y2="789.5" stroke="#262626" stroke-width="0.85"/>
<rect x="245.3" y="761.4" width="47.9" height="23.9" fill="#000" stroke="#000" stroke-width="0.85"/>
<line x1="245.3" y1="776.3" x2="293.2" y2="776.3" stroke="#ddd" stroke-width="1.1"/>
<text transform="translate(150.3 806.16) scale(0.1)" font-size="60" text-anchor="middle" font-weight="bold">#</text>
<text transform="translate(268.8 755.56) scale(0.1)" font-size="60" text-anchor="middle" font-weight="bold">*</text>
<text transform="translate(91.3 884.1) scale(0.1)" font-size="64" text-anchor="middle">Healthy</text>
<text transform="translate(91.3 892.2) scale(0.1)" font-size="64" text-anchor="middle">individuals</text>
<text transform="translate(150.8 884.1) scale(0.1)" font-size="64" text-anchor="middle">Baseline</text>
<text transform="translate(212.4 884.1) scale(0.1)" font-size="64" text-anchor="middle">3 cycles</text>
<text transform="translate(212.4 892.2) scale(0.1)" font-size="64" text-anchor="middle">LenDex</text>
<text transform="translate(269.6 884.1) scale(0.1)" font-size="64" text-anchor="middle">9 cycles</text>
<text transform="translate(269.6 892.2) scale(0.1)" font-size="64" text-anchor="middle">LenDex</text>
<text transform="translate(347.58 695.02) scale(0.1)" font-size="61.75" text-anchor="end" font-weight="bold">#</text>
<text transform="translate(400.2 695.14) scale(0.1)" font-size="65" text-anchor="end"><tspan font-style="italic">P</tspan> &lt; 0.05</text>
<text transform="translate(347.58 702.22) scale(0.1)" font-size="61.75" text-anchor="end" font-weight="bold">##</text>
<text transform="translate(400.2 702.34) scale(0.1)" font-size="65" text-anchor="end"><tspan font-style="italic">P</tspan> &lt; 0.005</text>
<text transform="translate(400.2 709.54) scale(0.1)" font-size="65" text-anchor="end"><tspan font-size="61.75" font-weight="bold">###</tspan> <tspan font-style="italic">P</tspan> &lt; 0.001</text>
<text transform="translate(400.2 716.74) scale(0.1)" font-size="65" text-anchor="end">Baseline vs. Control</text>
<text transform="translate(344.6 733.82) scale(0.1)" font-size="61.75" text-anchor="middle" font-weight="bold">*</text>
<text transform="translate(344.6 741.02) scale(0.1)" font-size="61.75" text-anchor="middle" font-weight="bold">**</text>
<text transform="translate(344.6 748.22) scale(0.1)" font-size="61.75" text-anchor="middle" font-weight="bold">***</text>
<text transform="translate(400.2 733.64) scale(0.1)" font-size="65" text-anchor="end"><tspan font-style="italic">P</tspan> &lt; 0.05</text>
<text transform="translate(400.2 740.84) scale(0.1)" font-size="65" text-anchor="end"><tspan font-style="italic">P</tspan> &lt; 0.005</text>
<text transform="translate(400.2 748.04) scale(0.1)" font-size="65" text-anchor="end"><tspan font-style="italic">P</tspan> &lt; 0.001</text>
<text transform="translate(400.2 755.24) scale(0.1)" font-size="65" text-anchor="end">3 or 9 cycles vs. Baseline</text>
<text transform="translate(0.2 918.6) scale(0.1)" font-size="113" font-weight="bold" fill="#000" stroke="none">E</text>
<rect x="26.4" y="922.8" width="66.7" height="131.5" fill="none" stroke="#444" stroke-width="0.8"/>
<line x1="24" y1="929.3" x2="26.4" y2="929.3" stroke="#1c1c1c" stroke-width="0.7"/>
<text transform="translate(22.3 931.75) scale(0.1)" font-size="68" text-anchor="end" style="stroke-width:3px">2.0</text>
<line x1="24" y1="959" x2="26.4" y2="959" stroke="#1c1c1c" stroke-width="0.7"/>
<text transform="translate(22.3 961.45) scale(0.1)" font-size="68" text-anchor="end" style="stroke-width:3px">1.5</text>
<line x1="24" y1="989" x2="26.4" y2="989" stroke="#1c1c1c" stroke-width="0.7"/>
<text transform="translate(22.3 991.45) scale(0.1)" font-size="68" text-anchor="end" style="stroke-width:3px">1.0</text>
<line x1="24" y1="1018.6" x2="26.4" y2="1018.6" stroke="#1c1c1c" stroke-width="0.7"/>
<text transform="translate(22.3 1021.05) scale(0.1)" font-size="68" text-anchor="end" style="stroke-width:3px">0.5</text>
<line x1="24" y1="1048.2" x2="26.4" y2="1048.2" stroke="#1c1c1c" stroke-width="0.7"/>
<text transform="translate(22.3 1050.65) scale(0.1)" font-size="68" text-anchor="end" style="stroke-width:3px">0</text>
<text transform="translate(5.58 998) rotate(-90) scale(0.1)" font-size="60.5" text-anchor="middle">Percentgae of DCs / nucleated PB cells</text>
<rect x="31.1" y="984.8" width="12.7" height="10.7" fill="#f4f4f4" stroke="#4a4a4a" stroke-width="0.85"/>
<line x1="31.1" y1="989.6" x2="43.8" y2="989.6" stroke="#222" stroke-width="1.1"/>
<line x1="52.35" y1="968.5" x2="52.35" y2="997.4" stroke="#6e6e6e" stroke-width="0.85"/>
<line x1="49.3" y1="968.5" x2="55.4" y2="968.5" stroke="#6e6e6e" stroke-width="0.85"/>
<line x1="52.35" y1="1032.4" x2="52.35" y2="1046.7" stroke="#6e6e6e" stroke-width="0.85"/>
<line x1="49.3" y1="1046.7" x2="55.4" y2="1046.7" stroke="#6e6e6e" stroke-width="0.85"/>
<rect x="46.1" y="997.4" width="12.5" height="35" fill="#b2b2b2" stroke="#6e6e6e" stroke-width="0.85"/>
<line x1="46.1" y1="1011.2" x2="58.6" y2="1011.2" stroke="#222" stroke-width="1.1"/>
<line x1="67.35" y1="1020.3" x2="67.35" y2="1029.4" stroke="#3c3c3c" stroke-width="0.85"/>
<line x1="64.4" y1="1020.3" x2="70.4" y2="1020.3" stroke="#3c3c3c" stroke-width="0.85"/>
<line x1="67.35" y1="1042.1" x2="67.35" y2="1046.3" stroke="#3c3c3c" stroke-width="0.85"/>
<line x1="64.4" y1="1046.3" x2="70.4" y2="1046.3" stroke="#3c3c3c" stroke-width="0.85"/>
<rect x="61.3" y="1029.4" width="12.1" height="12.7" fill="#5c5c5c" stroke="#3c3c3c" stroke-width="0.85"/>
<line x1="61.3" y1="1030.3" x2="73.4" y2="1030.3" stroke="#222" stroke-width="1.3"/>
<line x1="82.2" y1="1014.4" x2="82.2" y2="1017.8" stroke="#111" stroke-width="0.85"/>
<line x1="79.6" y1="1017.8" x2="84.8" y2="1017.8" stroke="#111" stroke-width="0.85"/>
<rect x="76.2" y="961.7" width="12" height="52.7" fill="#000" stroke="#000" stroke-width="0.85"/>
<line x1="76.2" y1="986.4" x2="88.2" y2="986.4" stroke="#8c8c8c" stroke-width="1.5"/>
<text transform="translate(59.9 1061.24) scale(0.1)" font-size="65" text-anchor="middle">Total DCs</text>
<rect x="129.5" y="922.5" width="217.4" height="131.9" fill="none" stroke="#444" stroke-width="0.8"/>
<line x1="127" y1="929.25" x2="129.5" y2="929.25" stroke="#1c1c1c" stroke-width="0.7"/>
<text transform="translate(125.2 931.59) scale(0.1)" font-size="65" text-anchor="end" style="stroke-width:3px">100</text>
<line x1="127" y1="952.6" x2="129.5" y2="952.6" stroke="#1c1c1c" stroke-width="0.7"/>
<text transform="translate(125.2 954.94) scale(0.1)" font-size="65" text-anchor="end" style="stroke-width:3px">80</text>
<line x1="127" y1="976.6" x2="129.5" y2="976.6" stroke="#1c1c1c" stroke-width="0.7"/>
<text transform="translate(125.2 978.94) scale(0.1)" font-size="65" text-anchor="end" style="stroke-width:3px">60</text>
<line x1="127" y1="1000.5" x2="129.5" y2="1000.5" stroke="#1c1c1c" stroke-width="0.7"/>
<text transform="translate(125.2 1002.84) scale(0.1)" font-size="65" text-anchor="end" style="stroke-width:3px">40</text>
<line x1="127" y1="1024.3" x2="129.5" y2="1024.3" stroke="#1c1c1c" stroke-width="0.7"/>
<text transform="translate(125.2 1026.64) scale(0.1)" font-size="65" text-anchor="end" style="stroke-width:3px">20</text>
<line x1="127" y1="1048" x2="129.5" y2="1048" stroke="#1c1c1c" stroke-width="0.7"/>
<text transform="translate(125.2 1050.34) scale(0.1)" font-size="65" text-anchor="end" style="stroke-width:3px">0</text>
<text transform="translate(109.5 996) rotate(-90) scale(0.1)" font-size="64" text-anchor="middle">Percentgae of DC subsets/all PB DCs</text>
<line x1="145.4" y1="1019.5" x2="145.4" y2="1025" stroke="#4a4a4a" stroke-width="0.85"/>
<line x1="142.6" y1="1019.5" x2="148.2" y2="1019.5" stroke="#4a4a4a" stroke-width="0.85"/>
<line x1="145.4" y1="1029.3" x2="145.4" y2="1033.8" stroke="#4a4a4a" stroke-width="0.85"/>
<line x1="142.6" y1="1033.8" x2="148.2" y2="1033.8" stroke="#4a4a4a" stroke-width="0.85"/>
<rect x="141.3" y="1025" width="8.2" height="4.3" fill="#fff" stroke="#4a4a4a" stroke-width="0.85"/>
<line x1="141.3" y1="1026.8" x2="149.5" y2="1026.8" stroke="#222" stroke-width="1.1"/>
<line x1="155.45" y1="1012.5" x2="155.45" y2="1031.3" stroke="#6e6e6e" stroke-width="0.85"/>
<line x1="152" y1="1012.5" x2="159" y2="1012.5" stroke="#6e6e6e" stroke-width="0.85"/>
<rect x="151.3" y="1031.3" width="8.3" height="16.7" fill="#b2b2b2" stroke="#6e6e6e" stroke-width="0.85"/>
<line x1="151.3" y1="1042" x2="159.6" y2="1042" stroke="#222" stroke-width="1.1"/>
<line x1="166.25" y1="1012.5" x2="166.25" y2="1030.8" stroke="#3c3c3c" stroke-width="0.85"/>
<line x1="162.6" y1="1012.5" x2="170" y2="1012.5" stroke="#3c3c3c" stroke-width="0.85"/>
<rect x="162" y="1030.8" width="8.5" height="17.2" fill="#5c5c5c" stroke="#3c3c3c" stroke-width="0.85"/>
<line x1="162" y1="1042" x2="170.5" y2="1042" stroke="#222" stroke-width="1.1"/>
<line x1="176.55" y1="1027.5" x2="176.55" y2="1032.5" stroke="#111" stroke-width="0.85"/>
<line x1="173.8" y1="1027.5" x2="179.4" y2="1027.5" stroke="#111" stroke-width="0.85"/>
<line x1="176.55" y1="1036.8" x2="176.55" y2="1037.4" stroke="#111" stroke-width="0.85"/>
<line x1="173.8" y1="1037.4" x2="179.4" y2="1037.4" stroke="#111" stroke-width="0.85"/>
<rect x="172.5" y="1032.5" width="8.1" height="4.3" fill="#000" stroke="#000" stroke-width="0.85"/>
<line x1="172.5" y1="1034.5" x2="180.6" y2="1034.5" stroke="#aaa" stroke-width="1.1"/>
<line x1="196.55" y1="1025.2" x2="196.55" y2="1025.7" stroke="#4a4a4a" stroke-width="0.85"/>
<line x1="193.8" y1="1025.2" x2="199.4" y2="1025.2" stroke="#4a4a4a" stroke-width="0.85"/>
<line x1="196.55" y1="1035.2" x2="196.55" y2="1035.8" stroke="#4a4a4a" stroke-width="0.85"/>
<line x1="193.8" y1="1035.8" x2="199.4" y2="1035.8" stroke="#4a4a4a" stroke-width="0.85"/>
<rect x="192.3" y="1025.7" width="8.5" height="9.5" fill="#fff" stroke="#4a4a4a" stroke-width="0.85"/>
<line x1="192.3" y1="1030.6" x2="200.8" y2="1030.6" stroke="#222" stroke-width="1.1"/>
<line x1="206.85" y1="1032.4" x2="206.85" y2="1038.3" stroke="#6e6e6e" stroke-width="0.85"/>
<line x1="204" y1="1032.4" x2="209.8" y2="1032.4" stroke="#6e6e6e" stroke-width="0.85"/>
<rect x="202.5" y="1038.3" width="8.7" height="9.7" fill="#b2b2b2" stroke="#6e6e6e" stroke-width="0.85"/>
<line x1="202.5" y1="1045.4" x2="211.2" y2="1045.4" stroke="#222" stroke-width="1.1"/>
<line x1="217.4" y1="1021.4" x2="217.4" y2="1030.2" stroke="#3c3c3c" stroke-width="0.85"/>
<line x1="214.6" y1="1021.4" x2="220.4" y2="1021.4" stroke="#3c3c3c" stroke-width="0.85"/>
<rect x="213.1" y="1030.2" width="8.6" height="17.8" fill="#5c5c5c" stroke="#3c3c3c" stroke-width="0.85"/>
<line x1="213.1" y1="1036.4" x2="221.7" y2="1036.4" stroke="#222" stroke-width="1.1"/>
<line x1="228" y1="1039.4" x2="228" y2="1040" stroke="#111" stroke-width="0.85"/>
<line x1="225" y1="1039.4" x2="231" y2="1039.4" stroke="#111" stroke-width="0.85"/>
<line x1="228" y1="1046.2" x2="228" y2="1048" stroke="#111" stroke-width="0.85"/>
<line x1="225" y1="1048" x2="231" y2="1048" stroke="#111" stroke-width="0.85"/>
<rect x="223.4" y="1040" width="9.2" height="6.2" fill="#000" stroke="#000" stroke-width="0.85"/>
<line x1="223.4" y1="1042.8" x2="232.6" y2="1042.8" stroke="#ddd" stroke-width="1.1"/>
<text transform="translate(207 1027.82) scale(0.1)" font-size="56" text-anchor="middle" font-weight="bold">#</text>
<line x1="247.95" y1="1041.6" x2="247.95" y2="1042.6" stroke="#4a4a4a" stroke-width="0.85"/>
<line x1="245" y1="1042.6" x2="251" y2="1042.6" stroke="#4a4a4a" stroke-width="0.85"/>
<rect x="243.3" y="1025.8" width="9.3" height="15.8" fill="#f4f4f4" stroke="#4a4a4a" stroke-width="0.85"/>
<line x1="243.3" y1="1030" x2="252.6" y2="1030" stroke="#222" stroke-width="1.1"/>
<line x1="258.7" y1="988.4" x2="258.7" y2="1015.2" stroke="#6e6e6e" stroke-width="0.85"/>
<line x1="255.8" y1="988.4" x2="261.6" y2="988.4" stroke="#6e6e6e" stroke-width="0.85"/>
<line x1="258.7" y1="1039.3" x2="258.7" y2="1043.4" stroke="#6e6e6e" stroke-width="0.85"/>
<line x1="255.8" y1="1043.4" x2="261.6" y2="1043.4" stroke="#6e6e6e" stroke-width="0.85"/>
<rect x="254.3" y="1015.2" width="8.8" height="24.1" fill="#b2b2b2" stroke="#6e6e6e" stroke-width="0.85"/>
<line x1="254.3" y1="1027.4" x2="263.1" y2="1027.4" stroke="#222" stroke-width="1.1"/>
<line x1="269.15" y1="968.3" x2="269.15" y2="979.3" stroke="#3c3c3c" stroke-width="0.85"/>
<line x1="266.2" y1="968.3" x2="272" y2="968.3" stroke="#3c3c3c" stroke-width="0.85"/>
<line x1="269.15" y1="1036.7" x2="269.15" y2="1047.5" stroke="#3c3c3c" stroke-width="0.85"/>
<line x1="266.2" y1="1047.5" x2="272" y2="1047.5" stroke="#3c3c3c" stroke-width="0.85"/>
<rect x="264.6" y="979.3" width="9.1" height="57.4" fill="#5c5c5c" stroke="#3c3c3c" stroke-width="0.85"/>
<line x1="264.6" y1="1022.9" x2="273.7" y2="1022.9" stroke="#222" stroke-width="1.1"/>
<line x1="279.9" y1="987.2" x2="279.9" y2="1009.3" stroke="#111" stroke-width="0.85"/>
<line x1="277" y1="987.2" x2="282.8" y2="987.2" stroke="#111" stroke-width="0.85"/>
<line x1="279.9" y1="1032.5" x2="279.9" y2="1045.1" stroke="#111" stroke-width="0.85"/>
<line x1="277" y1="1045.1" x2="282.8" y2="1045.1" stroke="#111" stroke-width="0.85"/>
<rect x="275.4" y="1009.3" width="9" height="23.2" fill="#000" stroke="#000" stroke-width="0.85"/>
<line x1="275.4" y1="1028.4" x2="284.4" y2="1028.4" stroke="#bbb" stroke-width="1.1"/>
<line x1="299.8" y1="961.9" x2="299.8" y2="978.3" stroke="#4a4a4a" stroke-width="0.85"/>
<line x1="297" y1="961.9" x2="302.8" y2="961.9" stroke="#4a4a4a" stroke-width="0.85"/>
<rect x="295.4" y="978.3" width="8.8" height="17.8" fill="#f4f4f4" stroke="#4a4a4a" stroke-width="0.85"/>
<line x1="295.4" y1="992.5" x2="304.2" y2="992.5" stroke="#222" stroke-width="1.1"/>
<line x1="310.05" y1="944.2" x2="310.05" y2="951.9" stroke="#6e6e6e" stroke-width="0.85"/>
<line x1="307.2" y1="944.2" x2="313" y2="944.2" stroke="#6e6e6e" stroke-width="0.85"/>
<line x1="310.05" y1="981.2" x2="310.05" y2="1012.1" stroke="#6e6e6e" stroke-width="0.85"/>
<line x1="307.2" y1="1012.1" x2="313" y2="1012.1" stroke="#6e6e6e" stroke-width="0.85"/>
<rect x="305.6" y="951.9" width="8.9" height="29.3" fill="#b2b2b2" stroke="#6e6e6e" stroke-width="0.85"/>
<line x1="305.6" y1="959.4" x2="314.5" y2="959.4" stroke="#222" stroke-width="1.1"/>
<line x1="320.6" y1="929.3" x2="320.6" y2="966.3" stroke="#3c3c3c" stroke-width="0.85"/>
<line x1="317.8" y1="929.3" x2="323.6" y2="929.3" stroke="#3c3c3c" stroke-width="0.85"/>
<line x1="320.6" y1="1005.4" x2="320.6" y2="1047.5" stroke="#3c3c3c" stroke-width="0.85"/>
<line x1="317.8" y1="1047.5" x2="323.6" y2="1047.5" stroke="#3c3c3c" stroke-width="0.85"/>
<rect x="316.2" y="966.3" width="8.8" height="39.1" fill="#5c5c5c" stroke="#3c3c3c" stroke-width="0.85"/>
<line x1="316.2" y1="989.9" x2="325" y2="989.9" stroke="#222" stroke-width="1.1"/>
<line x1="331.2" y1="938.2" x2="331.2" y2="960.6" stroke="#111" stroke-width="0.85"/>
<line x1="328.4" y1="938.2" x2="334.2" y2="938.2" stroke="#111" stroke-width="0.85"/>
<rect x="326.6" y="960.6" width="9.2" height="22.6" fill="#000" stroke="#000" stroke-width="0.85"/>
<line x1="326.6" y1="970.3" x2="335.8" y2="970.3" stroke="#ddd" stroke-width="1.1"/>
<text transform="translate(162.5 1061.64) scale(0.1)" font-size="65" text-anchor="middle">Plasmacytoid</text>
<text transform="translate(162.5 1069.64) scale(0.1)" font-size="65" text-anchor="middle">DCs</text>
<text transform="translate(215.3 1061.64) scale(0.1)" font-size="65" text-anchor="middle">BDCA-1+ve</text>
<text transform="translate(215.3 1069.64) scale(0.1)" font-size="65" text-anchor="middle">DCs</text>
<text transform="translate(265 1061.64) scale(0.1)" font-size="65" text-anchor="middle">BDCA-1 -ve</text>
<text transform="translate(265 1069.64) scale(0.1)" font-size="65" text-anchor="middle">DCs</text>
<text transform="translate(320.4 1061.64) scale(0.1)" font-size="65" text-anchor="middle">Tissue</text>
<text transform="translate(320.4 1069.64) scale(0.1)" font-size="65" text-anchor="middle">macrophages</text>
<rect x="370.9" y="922.2" width="4.7" height="4.7" fill="#fff" stroke="#222" stroke-width="0.7"/>
<text transform="translate(378.5 926.94) scale(0.1)" font-size="65">Healthy individuals</text>
<rect x="370.9" y="932.8" width="4.7" height="4.7" fill="#b2b2b2" stroke="#222" stroke-width="0.7"/>
<text transform="translate(378.5 937.54) scale(0.1)" font-size="65">Baseline</text>
<rect x="370.9" y="943.8" width="4.7" height="4.7" fill="#5c5c5c" stroke="#222" stroke-width="0.7"/>
<text transform="translate(378.5 948.54) scale(0.1)" font-size="65">3 cycles of LenDex</text>
<rect x="370.9" y="954.6" width="4.7" height="4.7" fill="#000000" stroke="#222" stroke-width="0.7"/>
<text transform="translate(378.5 959.34) scale(0.1)" font-size="65">9 cycles of LenDex</text>
<path d="M437.6 930.0 H442.9 V962.2 H437.6 M442.9 946.3 H448.3" fill="none" stroke="#1c1c1c" stroke-width="0.7" />
<text transform="translate(453 948.64) scale(0.1)" font-size="65">High-risk SMM patients</text>
<text transform="translate(389.08 988.12) scale(0.1)" font-size="61.75" text-anchor="end" font-weight="bold">#</text>
<text transform="translate(441.7 988.24) scale(0.1)" font-size="65" text-anchor="end"><tspan font-style="italic">P</tspan> &lt; 0.05</text>
<text transform="translate(389.08 995.47) scale(0.1)" font-size="61.75" text-anchor="end" font-weight="bold">##</text>
<text transform="translate(441.7 995.59) scale(0.1)" font-size="65" text-anchor="end"><tspan font-style="italic">P</tspan> &lt; 0.005</text>
<text transform="translate(441.7 1002.94) scale(0.1)" font-size="65" text-anchor="end"><tspan font-size="61.75" font-weight="bold">###</tspan> <tspan font-style="italic">P</tspan> &lt; 0.001</text>
<text transform="translate(441.7 1010.29) scale(0.1)" font-size="65" text-anchor="end">Baseline vs. Control</text>
<text transform="translate(386.2 1026.22) scale(0.1)" font-size="61.75" text-anchor="middle" font-weight="bold">*</text>
<text transform="translate(386.2 1033.57) scale(0.1)" font-size="61.75" text-anchor="middle" font-weight="bold">**</text>
<text transform="translate(386.2 1040.92) scale(0.1)" font-size="61.75" text-anchor="middle" font-weight="bold">***</text>
<text transform="translate(441.7 1026.04) scale(0.1)" font-size="65" text-anchor="end"><tspan font-style="italic">P</tspan> &lt; 0.05</text>
<text transform="translate(441.7 1033.39) scale(0.1)" font-size="65" text-anchor="end"><tspan font-style="italic">P</tspan> &lt; 0.005</text>
<text transform="translate(441.7 1040.74) scale(0.1)" font-size="65" text-anchor="end"><tspan font-style="italic">P</tspan> &lt; 0.001</text>
<text transform="translate(441.7 1048.09) scale(0.1)" font-size="65" text-anchor="end">3 or 9 cycles vs. Baseline</text>
</g>
</svg>
</body>
</html>
